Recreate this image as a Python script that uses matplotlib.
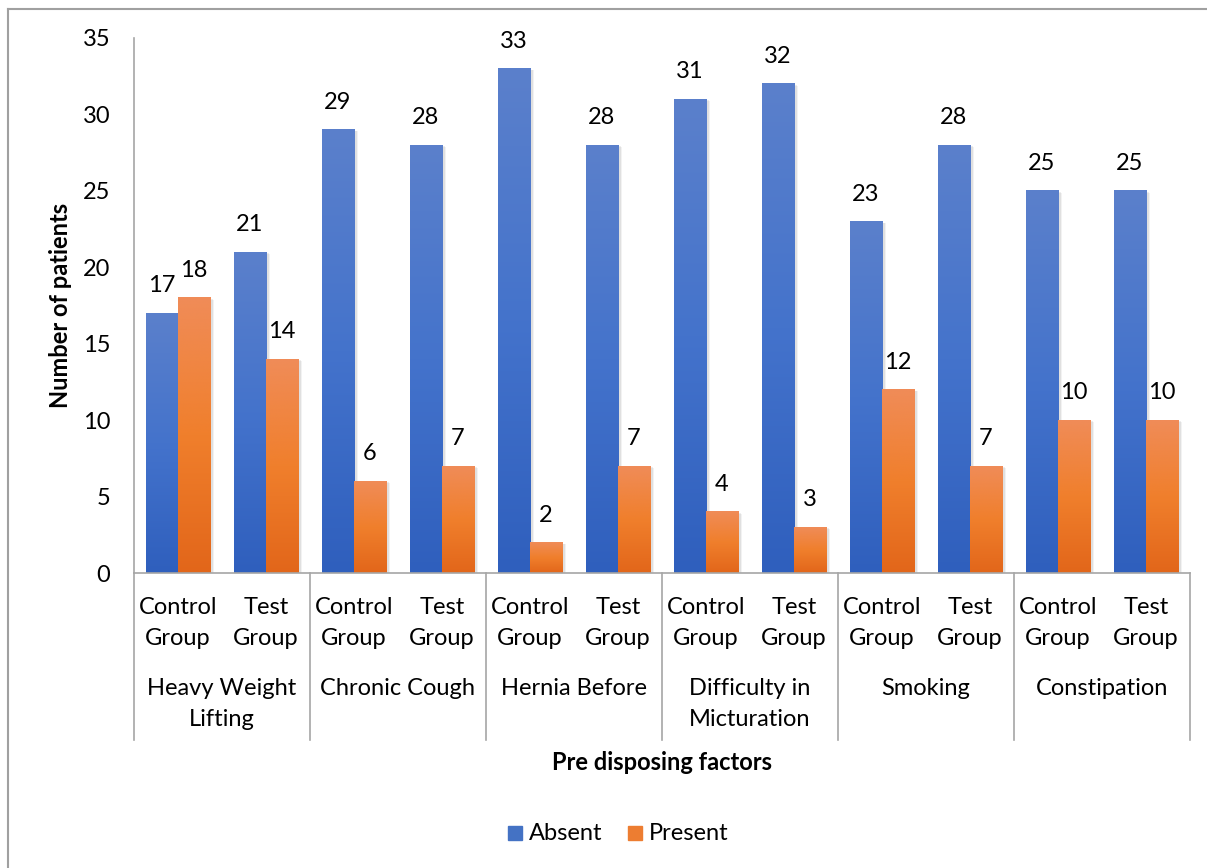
import numpy as np
import matplotlib.pyplot as plt
from matplotlib.transforms import blended_transform_factory
from matplotlib.colors import LinearSegmentedColormap
from matplotlib.patches import Rectangle

plt.rcParams['font.family'] = ['Lato', 'DejaVu Sans']

factors = ['Heavy Weight\nLifting', 'Chronic Cough', 'Hernia Before',
           'Difficulty in\nMicturation', 'Smoking', 'Constipation']
groups = ['Control\nGroup', 'Test\nGroup']
absent = [17, 21, 29, 28, 33, 28, 31, 32, 23, 28, 25, 25]
present = [18, 14, 6, 7, 2, 7, 4, 3, 12, 7, 10, 10]

W, H = 1207, 868
fig = plt.figure(figsize=(W / 100, H / 100), dpi=100)
ax = fig.add_axes([134 / W, (H - 573) / H, (1190 - 134) / W, (573 - 38) / H])

blue = LinearSegmentedColormap.from_list('b', ['#2f5fbd', '#4473cc', '#5b80cb'])
orange = LinearSegmentedColormap.from_list('o', ['#e2661a', '#f07f2c', '#f08c58'])

n = len(absent)
x = np.arange(n)
bw = 0.365
grad = np.linspace(0, 1, 256).reshape(-1, 1)


def gradient_bar(x0, h, cmap):
    # soft drop shadow, then the bar itself with a vertical gradient
    for k, a in [(0.09, 0.05), (0.06, 0.07), (0.03, 0.09)]:
        ax.add_patch(Rectangle((x0 + k * 0.5, 0), bw, h - k * 1.2, color='#000000',
                               alpha=a, lw=0, zorder=1))
    ax.imshow(grad, extent=[x0, x0 + bw, 0, h], origin='lower', cmap=cmap,
              aspect='auto', zorder=2, interpolation='bicubic')


for i in range(n):
    gradient_bar(x[i] - bw, absent[i], blue)
    gradient_bar(x[i], present[i], orange)
    ax.text(x[i] - bw / 2, absent[i] + 1.1, str(absent[i]), ha='center', va='bottom',
            fontsize=17, color='#000000')
    ax.text(x[i] + bw / 2, present[i] + 1.1, str(present[i]), ha='center', va='bottom',
            fontsize=17, color='#000000')

ax.set_xlim(-0.5, n - 0.5)
ax.set_ylim(0, 35)
ax.set_yticks(range(0, 36, 5))
ax.tick_params(axis='y', length=0, pad=17, labelsize=17)
ax.set_xticks([])
for s in ['top', 'right']:
    ax.spines[s].set_visible(False)
for s in ['left', 'bottom']:
    ax.spines[s].set_color('#a6a6a6')
    ax.spines[s].set_linewidth(1.2)

tr = blended_transform_factory(ax.transData, fig.transFigure)

def fy(py):
    return 1 - py / H

for i in range(n):
    ax.text(x[i], fy(623), groups[i % 2], transform=tr, ha='center', va='center',
            fontsize=17, linespacing=1.6)
for g in range(len(factors)):
    xc = 2 * g + 0.5
    ax.text(xc, fy(678), factors[g], transform=tr, ha='center', va='top',
            fontsize=17, linespacing=1.6)
for b in np.arange(-0.5, n, 2):
    ax.plot([b, b], [fy(573), fy(740)], transform=tr, color='#a6a6a6', lw=1.2,
            clip_on=False)

fig.text(60 / W, fy(305), 'Number of patients', rotation=90, ha='center', va='center',
         fontsize=17, fontweight='bold')
fig.text(662 / W, fy(762), 'Pre disposing factors', ha='center', va='center',
         fontsize=17, fontweight='bold')

# legend
fig.patches.append(Rectangle((508 / W, fy(840)), 14 / W, 14 / H, color='#4472c4',
                             transform=fig.transFigure))
fig.text(529 / W, fy(833), 'Absent', ha='left', va='center', fontsize=17)
fig.patches.append(Rectangle((628 / W, fy(840)), 14 / W, 14 / H, color='#ed7d31',
                             transform=fig.transFigure))
fig.text(649 / W, fy(833), 'Present', ha='left', va='center', fontsize=17)

# outer frame
fig.add_artist(plt.Line2D([8 / W, 1], [fy(9), fy(9)], color='#a0a0a0', lw=1.5,
                          transform=fig.transFigure))
fig.add_artist(plt.Line2D([8 / W, 8 / W], [fy(9), 0], color='#a0a0a0', lw=1.5,
                          transform=fig.transFigure))

fig.savefig('out.png', dpi=100)
